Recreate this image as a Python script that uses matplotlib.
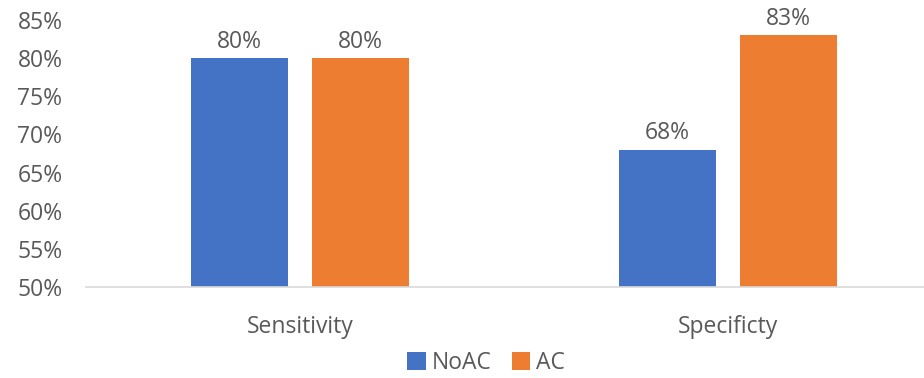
import numpy as np
import matplotlib.pyplot as plt

categories = ['Sensitivity', 'Specificty']
series = ['NoAC', 'AC']
no_ac = [80, 68]
ac = [80, 83]
colors = ['#4472C4', '#ED7D31']
text_color = '#595959'
fs = 16.5

plt.rcParams['font.family'] = ['Open Sans', 'DejaVu Sans']

fig = plt.figure(figsize=(9.24, 3.78), dpi=100)
ax = fig.add_axes([86 / 924, 91 / 378, 856 / 924, 267 / 378])

x = np.arange(len(categories))
width = 0.227
offset = 0.141
for i, (vals, name) in enumerate(zip([no_ac, ac], series)):
    pos = x + (offset if i else -offset)
    bars = ax.bar(pos, vals, width, bottom=0, color=colors[i], label=name)
    for b, v in zip(bars, vals):
        ax.text(b.get_x() + b.get_width() / 2, v + 0.6, f'{v}%',
                ha='center', va='bottom', fontsize=fs, color=text_color)

ax.set_ylim(50, 85)
ax.set_xlim(-0.5, 1.5)
ax.set_yticks(range(50, 86, 5))
ax.set_yticklabels([f'{t}%' for t in range(50, 86, 5)])
ax.set_xticks(x)
ax.set_xticklabels(categories)
ax.tick_params(axis='both', length=0, labelsize=fs, colors=text_color)
ax.tick_params(axis='y', pad=17)
ax.tick_params(axis='x', pad=20)
for s in ['top', 'right', 'left']:
    ax.spines[s].set_visible(False)
ax.spines['bottom'].set_color('#D9D9D9')
ax.spines['bottom'].set_linewidth(1.2)

fig.legend(loc='lower center', bbox_to_anchor=(486 / 924, -0.035), ncol=2, frameon=False,
           fontsize=fs, labelcolor=text_color, handlelength=0.8, handleheight=0.8,
           handletextpad=0.25, columnspacing=0.9, borderpad=0.2)

fig.savefig('out.png', dpi=100)
